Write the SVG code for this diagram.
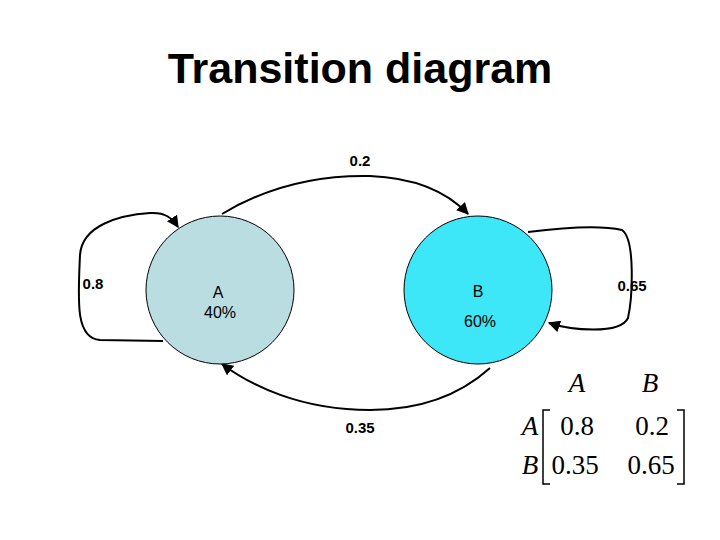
<svg xmlns="http://www.w3.org/2000/svg" width="720" height="540" viewBox="0 0 720 540">
<style>
.lbl{font-family:"Liberation Sans",Arial,sans-serif;font-size:16px;fill:#000}
.b{font-weight:bold;font-size:15px}
.c{stroke:#000;stroke-width:2;fill:none;marker-end:url(#ah)}
.m{font-family:"Liberation Serif","Times New Roman",serif;font-size:27px;fill:#000}
.mi{font-style:italic}
</style>
<defs><marker id="ah" viewBox="0 0 10 10" refX="9" refY="5" markerWidth="6" markerHeight="6" orient="auto"><path d="M0,0 L10,5 L0,10 z" fill="#000"/></marker></defs>
<rect width="720" height="540" fill="#fff"/>
<text x="360" y="83" text-anchor="middle" style="font-family:'Liberation Sans',Arial,sans-serif;font-size:43px;font-weight:bold">Transition diagram</text>
<g id="connectors">
<path class="c" d="M163,341 L100,340 C75,338 78,300 80,255 C82,225 120,215 150,213 C165,212 172,218 178,227"/>
<path class="c" d="M528,232 C560,228 600,225 622,230 C636,240 632,300 628,318 C620,335 570,330 549,323"/>
<path class="c" d="M222,214 C270,185 320,175 370,176 C420,178 450,195 468,214"/>
<path class="c" d="M490,368 C460,395 420,410 370,410 C300,410 250,385 222,364"/>
</g>
<g id="nodeA"><circle cx="220" cy="290" r="74" fill="#BADDE2" stroke="#000" stroke-width="1"/>
<text class="lbl" x="218" y="298" text-anchor="middle">A</text><text class="lbl" x="220" y="318" text-anchor="middle">40%</text></g>
<g id="nodeB"><circle cx="478" cy="290" r="74" fill="#3DE7F7" stroke="#000" stroke-width="1"/>
<text class="lbl" x="478" y="297" text-anchor="middle">B</text><text class="lbl" x="480" y="327" text-anchor="middle">60%</text></g>
<g id="labels">
<text class="lbl b" x="360" y="166" text-anchor="middle">0.2</text>
<text class="lbl b" x="360" y="433" text-anchor="middle">0.35</text>
<text class="lbl b" x="93" y="289" text-anchor="middle">0.8</text>
<text class="lbl b" x="632" y="291" text-anchor="middle">0.65</text>
</g>
<g id="matrix">
<text class="m mi" x="577" y="392" text-anchor="middle">A</text>
<text class="m mi" x="650" y="392" text-anchor="middle">B</text>
<text class="m mi" x="530" y="435" text-anchor="middle">A</text>
<text class="m mi" x="530" y="474" text-anchor="middle">B</text>
<text class="m" x="577" y="435" text-anchor="middle">0.8</text>
<text class="m" x="652" y="435" text-anchor="middle">0.2</text>
<text class="m" x="575" y="474" text-anchor="middle">0.35</text>
<text class="m" x="651" y="474" text-anchor="middle">0.65</text>
<path d="M550,410 L543,410 L543,484 L550,484 M677,410 L684,410 L684,484 L677,484" stroke="#000" stroke-width="1.5" fill="none"/>
</g>
</svg>
